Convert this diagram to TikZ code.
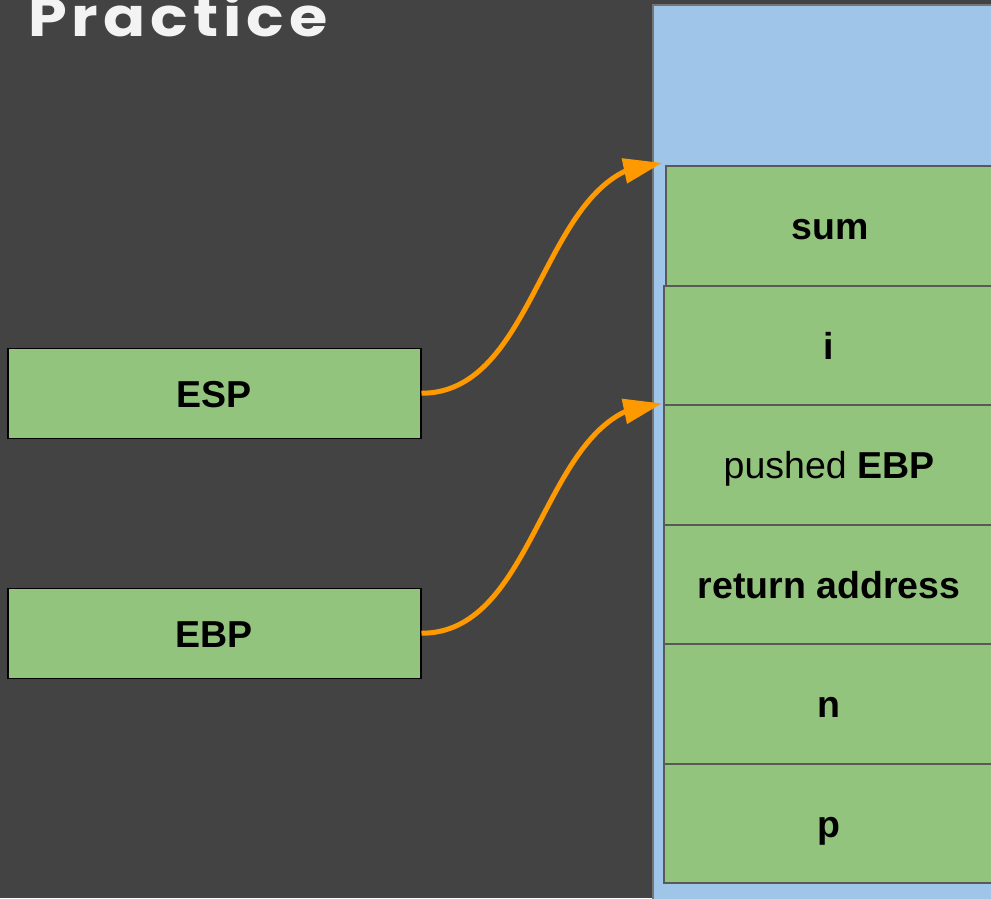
\documentclass[tikz,border=0pt]{standalone}
\usepackage{fontspec}
\setmainfont{Liberation Sans}
\newfontfamily\titlefont{Poppins}[LetterSpace=8]
\usetikzlibrary{arrows.meta,bending}
\definecolor{bgc}{HTML}{434343}
\definecolor{panelc}{HTML}{9FC5E8}
\definecolor{panelb}{HTML}{757575}
\definecolor{greenc}{HTML}{93C47D}
\definecolor{stackb}{HTML}{595959}
\definecolor{orangec}{HTML}{FF9900}
\definecolor{titlec}{HTML}{F3F3F3}
\tikzset{
  labelfont/.style={font=\fontsize{37.5}{40}\selectfont, text height=28pt, text depth=0pt},
  stackbox/.style={draw=stackb, line width=2pt, fill=greenc, labelfont, text=black,
    minimum width=330pt, minimum height=119.5pt, inner sep=0pt, anchor=north west},
  regbox/.style={draw=black, line width=1.5pt, fill=greenc, labelfont, text=black,
    minimum width=413pt, minimum height=90pt, inner sep=0pt, anchor=north west},
  ptr/.style={draw=orangec, line width=5pt,
    -{Triangle[length=38pt,width=26pt,flex,line width=0pt,fill=orangec]}},
}
\begin{document}
\begin{tikzpicture}[x=1pt,y=-1pt]
\useasboundingbox (0,0) rectangle (991,898);
\fill[bgc] (0,0) rectangle (991,898);
\draw[panelb, line width=1.5pt, fill=panelc] (653,5) rectangle (1010,920);
\node[anchor=base west, inner sep=0pt, text=titlec, xscale=1.15,
  font=\titlefont\bfseries\fontsize{54}{54}\selectfont] (title) at (28,36) {Practice};
\node[stackbox] (sum) at (664.5,165) {\bfseries sum};
\node[stackbox] (i) at (663,284.5) {\bfseries i};
\node[stackbox] (ebpsaved) at (663,404) {pushed \bfseries EBP};
\node[stackbox] (ret) at (663,523.5) {\bfseries return address};
\node[stackbox] (n) at (663,643) {\bfseries n};
\node[stackbox] (p) at (663,762.5) {\bfseries p};
\node[regbox] (esp) at (7,347.5) {\bfseries ESP};
\node[regbox] (ebp) at (7,587.5) {\bfseries EBP};
\coordinate (esptip) at (661.5,163);
\coordinate (ebptip) at (661.5,403.5);
\draw[ptr] (esp.east) .. controls +(120,0) and +(-120,0) .. (esptip);
\draw[ptr] (ebp.east) .. controls +(120,0) and +(-120,0) .. (ebptip);
\end{tikzpicture}
\end{document}
